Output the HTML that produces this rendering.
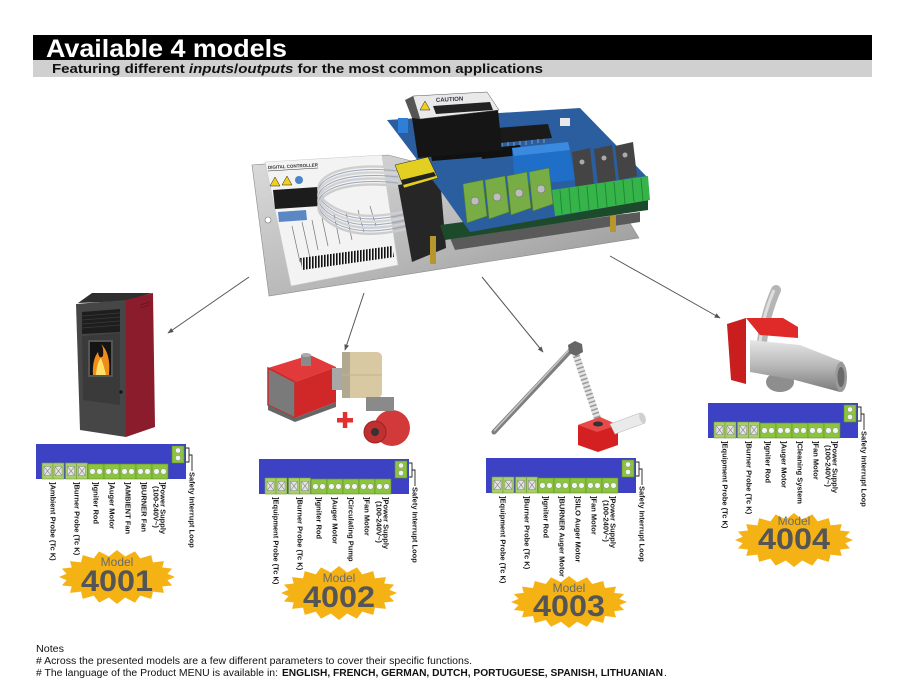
<!DOCTYPE html>
<html>
<head>
<meta charset="utf-8">
<style>
html,body{margin:0;padding:0;background:#fff;}
svg{display:block;}
text{font-family:"Liberation Sans",Arial,sans-serif;}
.lb{font-size:7.5px;font-weight:bold;fill:#1a1a1a;}
</style>
</head>
<body>
<svg width="905" height="699" viewBox="0 0 905 699" xmlns="http://www.w3.org/2000/svg">
<defs>
  <linearGradient id="gplate" x1="0" y1="0" x2="1" y2="1">
    <stop offset="0" stop-color="#dcdcdc"/>
    <stop offset="0.6" stop-color="#b4b4b4"/>
    <stop offset="1" stop-color="#8e8e8e"/>
  </linearGradient>
  <linearGradient id="gcyl" x1="0" y1="0" x2="0" y2="1">
    <stop offset="0" stop-color="#e6e6e6"/>
    <stop offset="0.5" stop-color="#b8b8b8"/>
    <stop offset="1" stop-color="#7a7a7a"/>
  </linearGradient>
  <pattern id="bars" width="3" height="20" patternUnits="userSpaceOnUse">
    <rect x="0" y="0" width="1.6" height="20" fill="#111"/>
  </pattern>
  <marker id="ah" viewBox="0 0 10 10" refX="9" refY="5" markerWidth="6" markerHeight="6" orient="auto">
    <path d="M0,1 L10,5 L0,9 z" fill="#555"/>
  </marker>
  <polygon id="star" fill="#f5b215" points="100,0 87,12 95,31 78,35 81,59 62,54 59,81 40,69 31,95 14,76 0,100 -14,76 -31,95 -40,69 -59,81 -62,54 -81,59 -78,35 -95,31 -87,12 -100,0 -87,-12 -95,-31 -78,-35 -81,-59 -62,-54 -59,-81 -40,-69 -31,-95 -14,-76 0,-100 14,-76 31,-95 40,-69 59,-81 62,-54 81,-59 78,-35 95,-31 87,-12"/>
  <g id="tb">
    <rect x="0" y="0" width="150" height="35" fill="#3d41c4"/>
    <rect x="136" y="2" width="12" height="17" fill="#8cc43e" stroke="#5f8f25" stroke-width=".6"/>
    <circle cx="142" cy="6.5" r="2.6" fill="#f2f2f2" stroke="#888" stroke-width=".5"/>
    <circle cx="142" cy="14" r="2.6" fill="#f2f2f2" stroke="#888" stroke-width=".5"/>
    <!-- probe terminals -->
    <g stroke="#6f9a35" stroke-width=".6" fill="#a9cf6a">
      <rect x="6" y="19" width="11" height="16"/>
      <rect x="17" y="19" width="11" height="16"/>
      <rect x="29.5" y="19" width="11" height="16"/>
      <rect x="40.5" y="19" width="11" height="16"/>
    </g>
    <g fill="#e4e4e4" stroke="#8a8a8a" stroke-width=".5">
      <rect x="8" y="22.5" width="7" height="9"/>
      <rect x="19" y="22.5" width="7" height="9"/>
      <rect x="31.5" y="22.5" width="7" height="9"/>
      <rect x="42.5" y="22.5" width="7" height="9"/>
    </g>
    <g stroke="#777" stroke-width=".6">
      <path d="M8,22.5 L15,31.5 M15,22.5 L8,31.5"/>
      <path d="M19,22.5 L26,31.5 M26,22.5 L19,31.5"/>
      <path d="M31.5,22.5 L38.5,31.5 M38.5,22.5 L31.5,31.5"/>
      <path d="M42.5,22.5 L49.5,31.5 M49.5,22.5 L42.5,31.5"/>
    </g>
    <!-- green pairs -->
    <g fill="#8cc43e" stroke="#5f8f25" stroke-width=".6">
      <rect x="52" y="20" width="16" height="15"/>
      <rect x="68" y="20" width="16" height="15"/>
      <rect x="84" y="20" width="16" height="15"/>
      <rect x="100" y="20" width="16" height="15"/>
      <rect x="116" y="20" width="16" height="15"/>
    </g>
    <g fill="#f4f4f4" stroke="#8a9a8a" stroke-width=".5">
      <circle cx="56.5" cy="27.5" r="2.8"/><circle cx="63.5" cy="27.5" r="2.8"/>
      <circle cx="72.5" cy="27.5" r="2.8"/><circle cx="79.5" cy="27.5" r="2.8"/>
      <circle cx="88.5" cy="27.5" r="2.8"/><circle cx="95.5" cy="27.5" r="2.8"/>
      <circle cx="104.5" cy="27.5" r="2.8"/><circle cx="111.5" cy="27.5" r="2.8"/>
      <circle cx="120.5" cy="27.5" r="2.8"/><circle cx="127.5" cy="27.5" r="2.8"/>
    </g>
    <path d="M150,4 H153 V18 H150 M153,11 H156 V27" fill="none" stroke="#222" stroke-width=".9"/>
  </g>
</defs>

<!-- Header -->
<rect x="33" y="35" width="839" height="25" fill="#000"/>
<rect x="33" y="60" width="839" height="17" fill="#d0d0d0"/>
<text x="46" y="57" font-size="25" font-weight="bold" fill="#fff" textLength="241" lengthAdjust="spacingAndGlyphs">Available 4 models</text>
<text x="52" y="73" font-size="13" font-weight="bold" fill="#111" textLength="491" lengthAdjust="spacingAndGlyphs">Featuring different <tspan font-style="italic">inputs</tspan>/<tspan font-style="italic">outputs</tspan> for the most common applications</text>

<!-- Controller board -->
<g>
  <polygon points="252,165 388,155 625,215 639,238 269,296" fill="url(#gplate)" stroke="#8a8a8a" stroke-width=".6"/>
  <circle cx="268" cy="220" r="3" fill="#fff" stroke="#777" stroke-width=".6"/>
  <polygon points="265,162 382,155 398,265 291,286" fill="#f3f3f3" stroke="#c8c8c8" stroke-width=".6"/>
  <text x="268" y="169" font-size="4.5" font-weight="bold" fill="#333" transform="rotate(-3 268 169)">DIGITAL CONTROLLER</text>
  <line x1="268" y1="171" x2="318" y2="168" stroke="#333" stroke-width=".6"/>
  <polygon points="270,186 275,177 280,186" fill="#f2cf1a" stroke="#222" stroke-width=".5"/>
  <polygon points="282,185 287,176 292,185" fill="#f2cf1a" stroke="#222" stroke-width=".5"/>
  <circle cx="299" cy="180" r="4" fill="#4a86c8"/>
  <polygon points="273,190 318,187 320,206 275,209" fill="#1c1c1c"/>
  <polygon points="278,212 306,210 307,220 279,222" fill="#5b87c4"/>
  <g stroke="#777" stroke-width=".7">
    <line x1="292" y1="226" x2="300" y2="262"/>
    <line x1="302" y1="222" x2="310" y2="258"/>
    <line x1="312" y1="220" x2="318" y2="250"/>
    <line x1="322" y1="218" x2="328" y2="246"/>
    <line x1="334" y1="214" x2="340" y2="244"/>
    <line x1="346" y1="212" x2="352" y2="240"/>
    <line x1="358" y1="210" x2="364" y2="232"/>
    <line x1="370" y1="206" x2="376" y2="226"/>
  </g>
  <polygon points="300,258 392,246 394,257 302,270" fill="url(#bars)"/>
  <!-- ribbon cable -->
  <g fill="none">
    <path d="M398,168 C330,160 300,185 330,205 S400,212 420,208" stroke="#cfcfcf" stroke-width="2.4"/>
    <path d="M398,171 C330,163 300,188 330,208 S400,215 420,211" stroke="#9aa6bb" stroke-width="1"/>
    <path d="M398,174 C330,166 300,191 330,211 S400,218 420,214" stroke="#d4d4d4" stroke-width="2.4"/>
    <path d="M398,177 C330,169 300,194 330,214 S400,221 420,217" stroke="#9aa6bb" stroke-width="1"/>
    <path d="M398,180 C330,172 300,197 330,217 S400,224 420,220" stroke="#d0d0d0" stroke-width="2.4"/>
    <path d="M398,183 C330,175 300,200 330,220 S400,227 420,223" stroke="#9aa6bb" stroke-width="1"/>
    <path d="M398,186 C330,178 300,203 330,223 S400,230 420,226" stroke="#cccccc" stroke-width="2.4"/>
  </g>
  <polygon points="398,185 440,178 446,248 412,262" fill="#262626"/>
  <polygon points="450,238 640,212 640,222 455,250" fill="#5a5a5a"/>
  <rect x="430" y="236" width="6" height="28" fill="#b8962e"/>
  <rect x="610" y="210" width="6" height="22" fill="#b8962e"/>
  <polygon points="440,225 648,198 648,210 445,240" fill="#1e4a2c"/>
  <!-- main pcb -->
  <polygon points="387,120 580,108 648,178 648,200 470,232 440,190" fill="#2b5e9f"/>
  <rect x="398" y="118" width="10" height="15" fill="#2f7fd8"/>
  <polygon points="430,150 480,146 482,157 432,161" fill="#111"/>
  <polygon points="480,149 520,145 522,155 482,159" fill="#111"/>
  <polygon points="497,128 548,124 552,138 500,143" fill="#1a1a1a"/>
  <g stroke="#ccc" stroke-width=".6">
    <line x1="502" y1="143" x2="502" y2="147"/><line x1="508" y1="142" x2="508" y2="146"/>
    <line x1="514" y1="142" x2="514" y2="146"/><line x1="520" y1="141" x2="520" y2="145"/>
    <line x1="526" y1="141" x2="526" y2="145"/><line x1="532" y1="140" x2="532" y2="144"/>
    <line x1="538" y1="139" x2="538" y2="143"/><line x1="544" y1="139" x2="544" y2="143"/>
  </g>
  <rect x="560" y="118" width="10" height="8" fill="#e8e8e8"/>
  <!-- caution box -->
  <polygon points="412,118 498,110 502,150 418,158" fill="#151515"/>
  <polygon points="405,100 413,96 420,119 412,118" fill="#555"/>
  <polygon points="413,96 487,92 499,110 420,119" fill="#e9e9e9" stroke="#555" stroke-width=".5"/>
  <polygon points="420,110 425,101 430,110" fill="#f2cf1a" stroke="#222" stroke-width=".5"/>
  <text x="436" y="102" font-size="6" font-weight="bold" fill="#334" transform="rotate(-3 436 102)">CAUTION</text>
  <polygon points="433,106 490,102 493,110 436,114" fill="#222"/>
  <!-- ESD sticker -->
  <polygon points="395,165 428,157 438,178 404,188" fill="#e3cf22" stroke="#222" stroke-width=".5"/>
  <polygon points="401,180 434,172 436,176 403,185" fill="#222"/>
  <!-- relay -->
  <polygon points="512,148 568,142 575,180 515,186" fill="#1f6fc9"/>
  <polygon points="512,148 568,142 570,150 514,156" fill="#3a8be0"/>
  <!-- transistors -->
  <polygon points="572,152 590,148 594,185 576,190" fill="#444"/>
  <polygon points="594,149 612,145 616,180 598,184" fill="#444"/>
  <polygon points="615,146 633,142 637,176 619,180" fill="#444"/>
  <circle cx="582" cy="162" r="2.5" fill="#aaa"/>
  <circle cx="604" cy="158" r="2.5" fill="#aaa"/>
  <circle cx="625" cy="155" r="2.5" fill="#aaa"/>
  <!-- olive terminals -->
  <g fill="#78ad45" stroke="#4f7f2a" stroke-width=".6">
    <polygon points="463,184 483,180 487,216 467,223"/>
    <polygon points="485,180 505,176 509,212 489,219"/>
    <polygon points="507,176 527,172 531,208 511,215"/>
    <polygon points="529,172 549,168 553,204 533,211"/>
  </g>
  <g fill="#bdbdbd" stroke="#666" stroke-width=".5">
    <circle cx="475" cy="201" r="4"/><circle cx="497" cy="197" r="4"/>
    <circle cx="519" cy="193" r="4"/><circle cx="541" cy="189" r="4"/>
  </g>
  <!-- bright green strip -->
  <polygon points="552,190 648,176 650,200 555,216" fill="#36b44a"/>
  <g stroke="#1f8a33" stroke-width="1">
    <line x1="560" y1="190" x2="562" y2="214"/><line x1="569" y1="188" x2="571" y2="213"/>
    <line x1="578" y1="187" x2="580" y2="211"/><line x1="587" y1="186" x2="589" y2="210"/>
    <line x1="596" y1="184" x2="598" y2="208"/><line x1="605" y1="183" x2="607" y2="207"/>
    <line x1="614" y1="182" x2="616" y2="205"/><line x1="623" y1="180" x2="625" y2="204"/>
    <line x1="632" y1="179" x2="634" y2="202"/><line x1="641" y1="178" x2="643" y2="201"/>
  </g>
</g>

<!-- Arrows -->
<g stroke="#555" stroke-width="1" fill="none">
  <line x1="249" y1="277" x2="168" y2="333" marker-end="url(#ah)"/>
  <line x1="364" y1="293" x2="345" y2="350" marker-end="url(#ah)"/>
  <line x1="482" y1="277" x2="543" y2="352" marker-end="url(#ah)"/>
  <line x1="610" y1="256" x2="720" y2="318" marker-end="url(#ah)"/>
</g>

<!-- Stove -->
<g>
  <polygon points="78,303 92,293 152,293 126,301" fill="#2f2f2f"/>
  <polygon points="76,304 126,300 126,437 80,430" fill="#464646"/>
  <polygon points="126,300 153,293 155,427 126,437" fill="#8a1c2b"/>
  <g stroke="#6a1420" stroke-width=".8">
    <line x1="140" y1="305" x2="150" y2="302"/><line x1="140" y1="308" x2="150" y2="305"/>
  </g>
  <polygon points="82,312 120,309 120,332 82,334" fill="#1e1e1e"/>
  <g stroke="#3a3a3a" stroke-width=".8">
    <line x1="82" y1="316" x2="120" y2="313"/><line x1="82" y1="320" x2="120" y2="317"/>
    <line x1="82" y1="324" x2="120" y2="321"/><line x1="82" y1="328" x2="120" y2="325"/>
  </g>
  <polygon points="82,336 120,333 120,405 83,400" fill="#3a3a3a"/>
  <rect x="88" y="340" width="25" height="37" fill="#555"/>
  <rect x="90" y="342" width="21" height="33" fill="#141414"/>
  <path d="M93,375 Q92,360 98,352 Q99,360 103,356 Q104,348 101,344 Q111,353 109,375 Z" fill="#f08c1a"/>
  <path d="M96,375 Q97,362 101,358 Q104,366 106,375 Z" fill="#fde26a"/>
  <circle cx="121" cy="392" r="1.6" fill="#111"/>
</g>

<!-- Burner 4002 -->
<g>
  <polygon points="268,368 310,355 336,367 295,382" fill="#e23a3a"/>
  <polygon points="268,368 295,382 295,418 268,405" fill="#7a7a7a" stroke="#c82828" stroke-width="1.5"/>
  <polygon points="295,382 336,367 336,402 295,418" fill="#d02828"/>
  <polygon points="268,405 295,418 336,402 336,407 295,422 268,410" fill="#666"/>
  <rect x="301" y="355" width="10" height="11" fill="#8a8a8a"/>
  <ellipse cx="306" cy="355" rx="5" ry="2" fill="#aaa"/>
  <rect x="332" y="368" width="16" height="22" fill="#a8a8a8"/>
  <rect x="342" y="352" width="40" height="46" rx="5" fill="#d9c9a3"/>
  <rect x="342" y="352" width="8" height="46" fill="#b0a88f"/>
  <line x1="342" y1="375" x2="382" y2="375" stroke="#c2b28c" stroke-width="1"/>
  <rect x="337" y="418" width="16" height="4.5" fill="#e03030"/>
  <rect x="342.8" y="412" width="4.5" height="16" fill="#e03030"/>
  <circle cx="392" cy="428" r="18" fill="#d23a3a"/>
  <rect x="366" y="397" width="28" height="14" fill="#8a8a8a"/>
  <circle cx="375" cy="432" r="11" fill="#c03030" stroke="#922" stroke-width="1"/>
  <circle cx="375" cy="432" r="4" fill="#333"/>
</g>

<!-- Auger 4003 -->
<g>
  <line x1="494" y1="432" x2="571" y2="350" stroke="#7e7e7e" stroke-width="5" stroke-linecap="round"/>
  <line x1="494" y1="431" x2="570" y2="349" stroke="#c4c4c4" stroke-width="1.6"/>
  <line x1="575" y1="352" x2="598" y2="420" stroke="#e4e4e4" stroke-width="7"/>
  <line x1="575" y1="352" x2="598" y2="420" stroke="#9a9a9a" stroke-width="7" stroke-dasharray="1.5 2.5"/>
  <polygon points="568,345 575,341 582,344 583,352 576,356 569,353" fill="#666"/>
  <polygon points="578,425 600,417 618,425 618,445 598,452 578,445" fill="#d42020"/>
  <polygon points="578,425 600,417 618,425 597,432" fill="#e84a4a"/>
  <ellipse cx="598" cy="424" rx="5" ry="2.5" fill="#333"/>
  <polygon points="610,424 640,413 645,423 615,434" fill="#eaeaea" stroke="#bbb" stroke-width=".6"/>
  <ellipse cx="642.5" cy="418" rx="3" ry="5.5" fill="#cfcfcf" transform="rotate(-20 642.5 418)"/>
</g>

<!-- Burner 4004 -->
<g>
  <path d="M776,290 Q765,315 762,342" fill="none" stroke="#b5b5b5" stroke-width="10" stroke-linecap="round"/>
  <path d="M774,290 Q763,315 760,342" fill="none" stroke="#dedede" stroke-width="3"/>
  <polygon points="746,318 783,318 798,327 798,338 760,335" fill="#e02a2a"/>
  <polygon points="727,324 746,318 746,384 731,380" fill="#c81e1e"/>
  <ellipse cx="780" cy="382" rx="14" ry="10" fill="#8e8e8e"/>
  <polygon points="750,340 800,345 843,362 840,392 795,380 750,372" fill="url(#gcyl)"/>
  <ellipse cx="841" cy="377" rx="6" ry="15" fill="#9a9a9a"/>
  <ellipse cx="841" cy="377" rx="3.5" ry="10" fill="#6a6a6a"/>
</g>

<!-- Model 4001 -->
<g transform="translate(36,444)">
  <use href="#tb"/>
  <text class="lb" transform="translate(14.5,38) rotate(90)">]Ambient Probe (Tc K)</text>
  <text class="lb" transform="translate(38.5,38) rotate(90)">]Burner Probe (Tc K)</text>
  <text class="lb" transform="translate(57.5,38) rotate(90)">]Igniter Rod</text>
  <text class="lb" transform="translate(73.5,38) rotate(90)">]Auger Motor</text>
  <text class="lb" transform="translate(89.5,38) rotate(90)">]AMBIENT Fan</text>
  <text class="lb" transform="translate(105.5,38) rotate(90)">]BURNER Fan</text>
  <text class="lb" transform="translate(124.5,38) rotate(90)">]Power Supply<tspan x="4" dy="7">(100-240V~)</tspan></text>
  <text class="lb" transform="translate(153.5,28) rotate(90)">Safety Interrupt Loop</text>
</g>
<use href="#star" transform="translate(117,577) scale(.58,.27)"/>
<text x="117" y="566" font-size="12" fill="#6a6a6a" text-anchor="middle">Model</text>
<text x="81" y="591" font-size="30" font-weight="bold" fill="#555" textLength="72" lengthAdjust="spacingAndGlyphs">4001</text>

<!-- Model 4002 -->
<g transform="translate(259,459)">
  <use href="#tb"/>
  <text class="lb" transform="translate(14.5,38) rotate(90)">]Equipment Probe (Tc K)</text>
  <text class="lb" transform="translate(38.5,38) rotate(90)">]Burner Probe (Tc K)</text>
  <text class="lb" transform="translate(57.5,38) rotate(90)">]Igniter Rod</text>
  <text class="lb" transform="translate(73.5,38) rotate(90)">]Auger Motor</text>
  <text class="lb" transform="translate(89.5,38) rotate(90)">]Circulating Pump</text>
  <text class="lb" transform="translate(105.5,38) rotate(90)">]Fan Motor</text>
  <text class="lb" transform="translate(124.5,38) rotate(90)">]Power Supply<tspan x="4" dy="7">(100-240V~)</tspan></text>
  <text class="lb" transform="translate(153.5,28) rotate(90)">Safety Interrupt Loop</text>
</g>
<use href="#star" transform="translate(339,593) scale(.58,.27)"/>
<text x="339" y="582" font-size="12" fill="#6a6a6a" text-anchor="middle">Model</text>
<text x="303" y="607" font-size="30" font-weight="bold" fill="#555" textLength="72" lengthAdjust="spacingAndGlyphs">4002</text>

<!-- Model 4003 -->
<g transform="translate(486,458)">
  <use href="#tb"/>
  <text class="lb" transform="translate(14.5,38) rotate(90)">]Equipment Probe (Tc K)</text>
  <text class="lb" transform="translate(38.5,38) rotate(90)">]Burner Probe (Tc K)</text>
  <text class="lb" transform="translate(57.5,38) rotate(90)">]Igniter Rod</text>
  <text class="lb" transform="translate(73.5,38) rotate(90)">]BURNER Auger Motor</text>
  <text class="lb" transform="translate(89.5,38) rotate(90)">]SILO Auger Motor</text>
  <text class="lb" transform="translate(105.5,38) rotate(90)">]Fan Motor</text>
  <text class="lb" transform="translate(124.5,38) rotate(90)">]Power Supply<tspan x="4" dy="7">(100-240V~)</tspan></text>
  <text class="lb" transform="translate(153.5,28) rotate(90)">Safety Interrupt Loop</text>
</g>
<use href="#star" transform="translate(569,602) scale(.58,.26)"/>
<text x="569" y="592" font-size="12" fill="#6a6a6a" text-anchor="middle">Model</text>
<text x="533" y="616" font-size="30" font-weight="bold" fill="#555" textLength="72" lengthAdjust="spacingAndGlyphs">4003</text>

<!-- Model 4004 -->
<g transform="translate(708,403)">
  <use href="#tb"/>
  <text class="lb" transform="translate(14.5,38) rotate(90)">]Equipment Probe (Tc K)</text>
  <text class="lb" transform="translate(38.5,38) rotate(90)">]Burner Probe (Tc K)</text>
  <text class="lb" transform="translate(57.5,38) rotate(90)">]Igniter Rod</text>
  <text class="lb" transform="translate(73.5,38) rotate(90)">]Auger Motor</text>
  <text class="lb" transform="translate(89.5,38) rotate(90)">]Cleaning System</text>
  <text class="lb" transform="translate(105.5,38) rotate(90)">]Fan Motor</text>
  <text class="lb" transform="translate(124.5,38) rotate(90)">]Power Supply<tspan x="4" dy="7">(100-240V~)</tspan></text>
  <text class="lb" transform="translate(153.5,28) rotate(90)">Safety Interrupt Loop</text>
</g>
<use href="#star" transform="translate(794,540) scale(.59,.27)"/>
<text x="794" y="525" font-size="12" fill="#6a6a6a" text-anchor="middle">Model</text>
<text x="758" y="549" font-size="30" font-weight="bold" fill="#555" textLength="72" lengthAdjust="spacingAndGlyphs">4004</text>

<!-- Notes -->
<g font-size="10" fill="#111">
  <text x="36" y="652" textLength="28" lengthAdjust="spacingAndGlyphs">Notes</text>
  <text x="36" y="664" textLength="436" lengthAdjust="spacingAndGlyphs"># Across the presented models are a few different parameters to cover their specific functions.</text>
  <text x="36" y="676" textLength="242" lengthAdjust="spacingAndGlyphs"># The language of the Product MENU is available in:</text>
  <text x="282" y="676" font-weight="bold" textLength="381" lengthAdjust="spacingAndGlyphs">ENGLISH, FRENCH, GERMAN, DUTCH, PORTUGUESE, SPANISH, LITHUANIAN</text>
  <text x="664" y="676">.</text>
</g>
</svg>
</body>
</html>
